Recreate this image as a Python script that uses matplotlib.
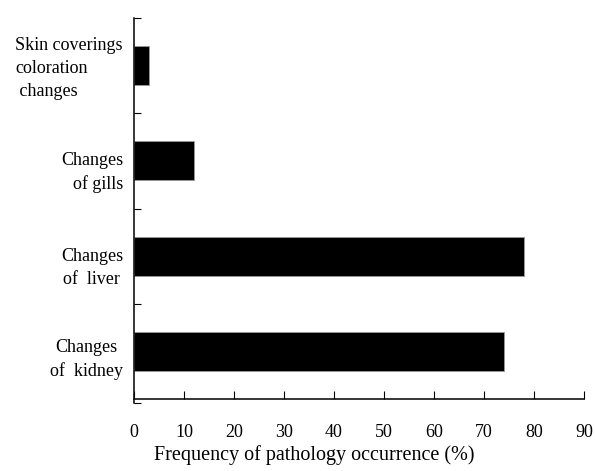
import matplotlib.pyplot as plt

plt.rcParams['font.family'] = ['Liberation Serif', 'DejaVu Serif']

# categories from bottom to top
labels = ['Changes\nof  kidney', 'Changes\nof  liver', 'Changes\nof gills',
          'Skin coverings\ncoloration\n changes']
values = [74, 78, 12, 3]
xticks = [0, 10, 20, 30, 40, 50, 60, 70, 80, 90]

# label layout (alignment and small downward shift as in the original)
aligns = ['center', 'center', 'right', 'left']
shifts = [0.085, 0.125, 0.125, 0.03]

fig = plt.figure(figsize=(5.95, 4.71), dpi=100)
ax = fig.add_axes([0.2252, 0.1444, 0.7563, 0.8174])

pos = list(range(len(values)))
ax.barh(pos, values, height=0.41, color='black', edgecolor='#999999', linewidth=0.6)

ax.set_xlim(0, 90)
ax.set_ylim(-0.54, 3.5)
ax.spines['top'].set_visible(False)
ax.spines['right'].set_visible(False)
ax.spines['bottom'].set_position(('data', -0.5))
for s in ['left', 'bottom']:
    ax.spines[s].set_linewidth(1.1)

ax.set_xticks(xticks)
ax.set_xticklabels([str(v) for v in xticks])
ax.tick_params(axis='x', direction='in', length=6, width=0.8, pad=18, labelsize=13)

ax.set_yticks([-0.54, 0.5, 1.5, 2.5, 3.5])
ax.set_yticklabels([])
ax.tick_params(axis='y', direction='in', length=5, width=0.8, pad=2)

for p, lab, al, sh in zip(pos, labels, aligns, shifts):
    ax.text(-2.2, p - sh, lab, ha='right', va='center', multialignment=al,
            fontsize=13, linespacing=1.45)

ax.set_xlabel('Frequency of pathology occurrence (%)', fontsize=14.5)
ax.xaxis.set_label_coords(0.40, -0.11)

fig.savefig('out.png')
